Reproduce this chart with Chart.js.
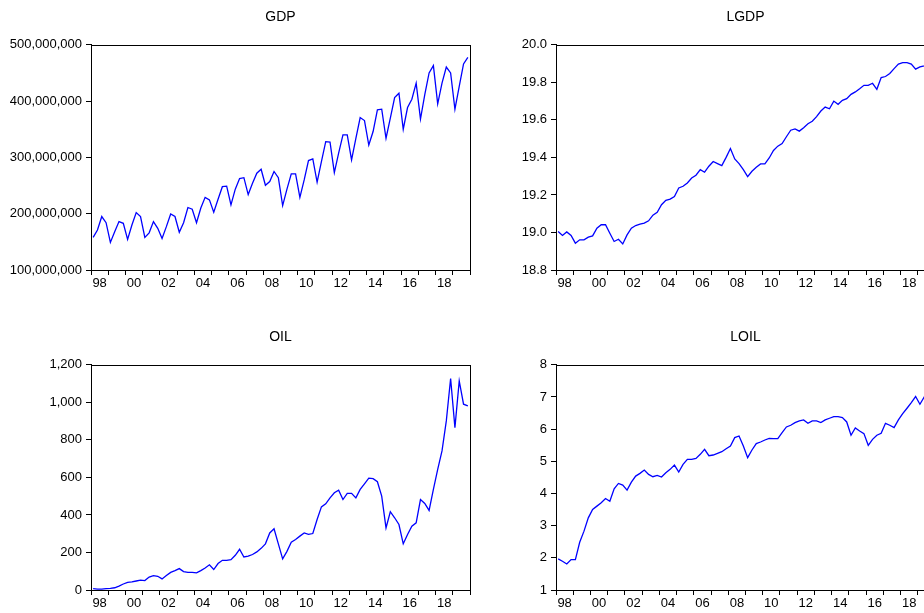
<!DOCTYPE html>
<html><head><meta charset="utf-8">
<script src="https://cdn.jsdelivr.net/npm/chart.js@4/dist/chart.umd.min.js"></script>
<style>
html,body{margin:0;padding:0;background:#fff;overflow:hidden;width:924px;height:613px;position:relative}
.p{position:absolute;width:480px;height:300px}
</style></head><body>
<div class="p" style="left:0;top:0"><canvas id="c1" width="480" height="300"></canvas></div>
<div class="p" style="left:465px;top:0"><canvas id="c2" width="480" height="300"></canvas></div>
<div class="p" style="left:0;top:320px"><canvas id="c3" width="480" height="300"></canvas></div>
<div class="p" style="left:465px;top:320px"><canvas id="c4" width="480" height="300"></canvas></div>
<script>
// ---- data (quarterly, 1998Q1 - 2019Q4) ----
const yearLabels = ['98','00','02','04','06','08','10','12','14','16','18'];

// GDP in millions
const gdpMillions = [158,171,195,184,149,168,186,183,154.5,180,
  202,195,158,166,186,174,156,177,199.6,195,
  167,184,211,208,184,210,229,224.5,202.5,225.6,
  248,249,215.6,243.6,262.4,264,234,254,272,279,
  250.5,257,275,264,214.4,243.6,270.7,270.7,229,260,
  294.4,297.3,256,292.6,328,327,273,307.4,340,340,
  295.6,334,370.8,365.5,322,346,384.4,385.6,334,369.6,
  406.4,414,350,388.6,403.4,432,368,411.6,450,463,
  395,432,460.5,450,385.6,426,466,477.5];

const lgdp = [19.005,18.984,19.003,18.984,18.943,18.961,18.961,18.975,18.982,19.023,
  19.041,19.041,18.996,18.952,18.964,18.939,18.987,19.023,19.037,19.044,
  19.050,19.062,19.092,19.107,19.148,19.171,19.178,19.192,19.237,19.246,
  19.264,19.290,19.305,19.335,19.321,19.353,19.378,19.367,19.356,19.400,
  19.447,19.392,19.367,19.335,19.298,19.326,19.347,19.365,19.365,19.397,
  19.437,19.460,19.474,19.510,19.545,19.552,19.540,19.558,19.579,19.593,
  19.617,19.647,19.668,19.659,19.700,19.683,19.704,19.713,19.736,19.749,
  19.766,19.784,19.784,19.795,19.763,19.825,19.831,19.847,19.873,19.897,
  19.905,19.905,19.897,19.870,19.882,19.888,19.895,19.905];

const oil = [7,5,5,7,9,12,21,32,41,43,
  48,53,50,69,77,73,59,77,94,103,
  114,98,94,94,91,103,117,134,109,141,
  158,158,162,185,217,176,180,189,203,222,
  246,304,326,246,166,206,255,269,287,304,
  296,301,376,443,459,491,518,532,482,515,
  515,491,536,566,596,593,577,500,331,417,
  385,349,246,296,340,358,482,461,424,536,
  643,741,901,1127,865,1114,990,981];

const loil = [1.966,1.893,1.81,1.945,1.945,2.485,2.83,3.243,3.503,3.607,
  3.71,3.845,3.76,4.147,4.313,4.26,4.105,4.354,4.541,4.625,
  4.728,4.593,4.521,4.562,4.51,4.645,4.75,4.884,4.666,4.905,
  5.061,5.061,5.092,5.217,5.372,5.175,5.196,5.248,5.30,5.393,
  5.476,5.736,5.788,5.476,5.113,5.352,5.549,5.60,5.663,5.715,
  5.705,5.705,5.892,6.068,6.12,6.203,6.255,6.286,6.182,6.255,
  6.255,6.203,6.286,6.338,6.39,6.39,6.359,6.224,5.81,6.037,
  5.944,5.86,5.497,5.684,5.81,5.87,6.182,6.12,6.047,6.286,
  6.48,6.65,6.826,7.013,6.774,7.003,6.90,6.89];

// y tick values per panel
const gdpTicks = [100e6,200e6,300e6,400e6,500e6];
const lgdpTicks = [18.8,19.0,19.2,19.4,19.6,19.8,20.0];
const oilTicks = [0,200,400,600,800,1000,1200];
const loilTicks = [1,2,3,4,5,6,7,8];

// ---- drawing ----
Chart.defaults.font.family = '"Liberation Sans", Arial, sans-serif';
Chart.defaults.font.size = 13;
Chart.defaults.color = '#000';

const frame = {
  id: 'frame',
  afterDraw(chart) {
    const a = chart.chartArea, c = chart.ctx;
    c.save();
    c.strokeStyle = '#000'; c.lineWidth = 1;
    c.strokeRect(Math.round(a.left) + 0.5, Math.round(a.top) + 0.5,
      Math.round(a.right - a.left), Math.round(a.bottom - a.top));
    c.restore();
  }
};

function makeChart(id, title, values, ticks, fmt) {
  const nQ = values.length;
  new Chart(document.getElementById(id), {
    type: 'line',
    data: {
      datasets: [{
        label: title,
        data: values.map((v, i) => ({x: i + 0.5, y: v})),
        borderColor: '#0000ff',
        borderWidth: 1.3,
        pointRadius: 0,
        tension: 0,
        fill: false
      }]
    },
    options: {
      responsive: false,
      animation: false,
      devicePixelRatio: 1,
      layout: {padding: {left: 0, right: 10, top: 0, bottom: 0}},
      plugins: {
        legend: {display: false},
        tooltip: {enabled: false},
        title: {display: true, text: title, color: '#000', fullSize: false,
          font: {size: 14, weight: 'normal'}, padding: {top: 9, bottom: 19}}
      },
      scales: {
        x: {
          type: 'linear', min: 0, max: nQ,
          afterBuildTicks: s => { const t = []; for (let k = 0; k <= nQ; k += 2) t.push({value: k}); s.ticks = t; },
          afterFit: s => { s.height = 30; },
          grid: {drawOnChartArea: false, drawTicks: true, tickLength: 5,
            tickColor: ctx => (ctx.tick && Math.round(ctx.tick.value) % 4 === 0) ? '#000' : 'rgba(0,0,0,0)'},
          border: {color: '#000', width: 1},
          ticks: {autoSkip: false, maxRotation: 0, padding: 1,
            callback: v => { const r = Math.round(v); return ((r - 2) % 8 === 0 && r >= 2) ? (yearLabels[(r - 2) / 8] || '') : ''; }}
        },
        y: {
          min: ticks[0], max: ticks[ticks.length - 1],
          afterBuildTicks: s => { s.ticks = ticks.map(v => ({value: v})); },
          afterFit: s => { s.width = 91; },
          grid: {drawOnChartArea: false, drawTicks: true, tickLength: 5, tickColor: '#000'},
          border: {color: '#000', width: 1},
          ticks: {padding: 4, callback: fmt}
        }
      }
    },
    plugins: [frame]
  });
}

const commas = v => Math.round(v).toLocaleString('en-US');
makeChart('c1', 'GDP', gdpMillions.map(v => v * 1e6), gdpTicks, commas);
makeChart('c2', 'LGDP', lgdp, lgdpTicks, v => v.toFixed(1));
makeChart('c3', 'OIL', oil, oilTicks, commas);
makeChart('c4', 'LOIL', loil, loilTicks, v => String(Math.round(v)));
</script>
</body></html>
